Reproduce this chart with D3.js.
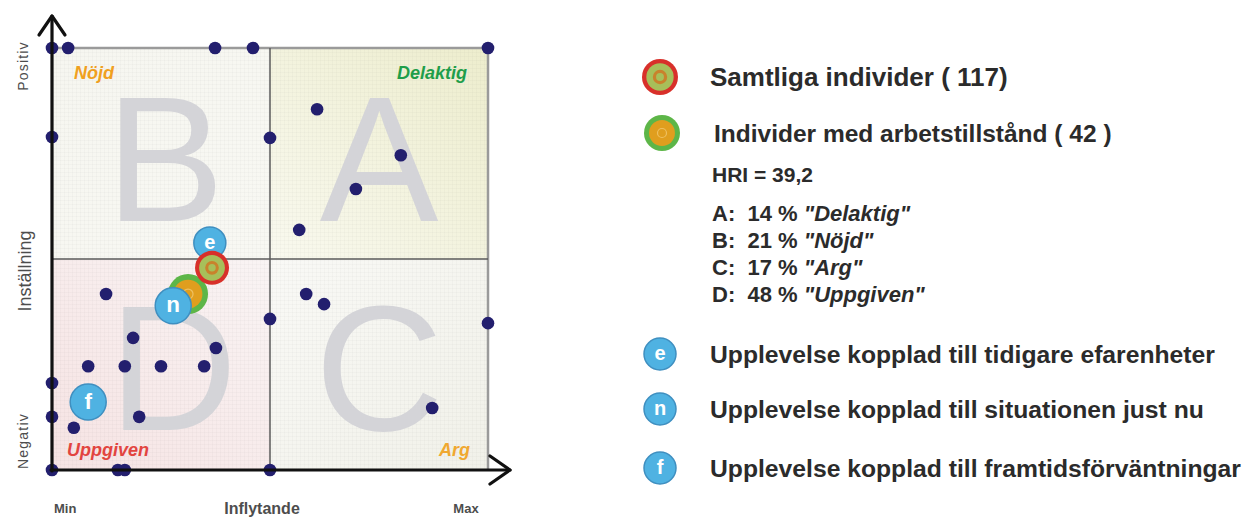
<!DOCTYPE html>
<html>
<head>
<meta charset="utf-8">
<script src="https://cdn.jsdelivr.net/npm/d3@7"></script>
<style>
  body { margin: 0; background: #fff; }
  svg { display: block; }
  text { font-family: "Liberation Sans", Arial, sans-serif; }
</style>
</head>
<body>
<div id="chart"></div>
<script>
// respondents: Inflytande (x) and Inställning (y), both 0 (Min/Negativ) .. 100 (Max/Positiv)
var respX = [0, 3.7, 37.4, 46.1, 100, 0, 50, 60.8, 80, 69.7, 56.7,
             12.4, 18.6, 8.3, 16.7, 25, 34.9, 37.6, 0, 0, 5, 20,
             0, 15.1, 16.7, 50, 50, 58.3, 62.4, 100, 87.2];
var respY = [100, 100, 100, 100, 100, 78.9, 78.7, 85.5, 74.6, 66.6, 56.9,
             41.7, 31.3, 24.6, 24.6, 24.6, 24.6, 28.9, 20.6, 12.6, 10, 12.6,
             0, 0, 0, 0, 35.8, 41.7, 39.3, 34.8, 14.7];

// group averages
var groupLabels = ["Samtliga individer ( 117)", "Individer med arbetstillstånd ( 42 )"];
var groupX = [36.7, 31.2];
var groupY = [47.9, 41.7];

// experience bubbles
var bubbleKeys = ["e", "n", "f"];
var bubbleX = [36.2, 27.8, 8.3];
var bubbleY = [53.8, 38.9, 16.1];
var bubbleLabels = ["Upplevelse kopplad till tidigare efarenheter",
                    "Upplevelse kopplad till situationen just nu",
                    "Upplevelse kopplad till framtidsförväntningar"];

// quadrants
var quadLetters = ["A", "B", "C", "D"];
var quadNames = ["Delaktig", "Nöjd", "Arg", "Uppgiven"];
var quadShare = [14, 21, 17, 48];
var hriValue = "39,2";

var svg = d3.select("#chart").append("svg")
    .attr("width", 1245)
    .attr("height", 517);

var x = d3.scaleLinear().domain([0, 100]).range([52, 488]);
var y = d3.scaleLinear().domain([0, 100]).range([470, 48]);

var defs = svg.append("defs");

//quadrant gradients, outer corner -> centre
var quadStyle = {
  A: {x0: 50, x1: 100, y0: 50, y1: 100, g: [1, 0, 0, 1], c: ["#ededcd", "#f9f9ef"], col: "#1f9e4a"},
  B: {x0: 0, x1: 50, y0: 50, y1: 100, g: [0, 0, 1, 1], c: ["#f6f6f0", "#f8f8f3"], col: "#f0a020"},
  C: {x0: 50, x1: 100, y0: 0, y1: 50, g: [1, 1, 0, 0], c: ["#f1f1e9", "#f9f9f6"], col: "#f0a830"},
  D: {x0: 0, x1: 50, y0: 0, y1: 50, g: [0, 1, 1, 0], c: ["#f6e3e3", "#f9f4f4"], col: "#e2443f"}
};

quadLetters.forEach(function(q) {
  var s = quadStyle[q];
  var grad = defs.append("linearGradient")
      .attr("id", "grad" + q)
      .attr("x1", s.g[0]).attr("y1", s.g[1])
      .attr("x2", s.g[2]).attr("y2", s.g[3]);
  grad.append("stop").attr("offset", 0).attr("stop-color", s.c[0]);
  grad.append("stop").attr("offset", 1).attr("stop-color", s.c[1]);
});

//faint grid texture
var pat = defs.append("pattern")
    .attr("id", "texture")
    .attr("width", 4).attr("height", 4)
    .attr("patternUnits", "userSpaceOnUse");
pat.append("path")
    .attr("d", "M0,0V4M0,0H4")
    .attr("stroke", "#000")
    .attr("stroke-opacity", 0.035)
    .attr("stroke-width", 1);

var plot = svg.append("g");

plot.selectAll("rect.quad")
  .data(quadLetters)
  .enter()
  .append("rect")
  .attr("class", "quad")
  .attr("x", d => x(quadStyle[d].x0))
  .attr("y", d => y(quadStyle[d].y1))
  .attr("width", d => x(quadStyle[d].x1) - x(quadStyle[d].x0))
  .attr("height", d => y(quadStyle[d].y0) - y(quadStyle[d].y1))
  .attr("fill", d => "url(#grad" + d + ")");

plot.append("rect")
  .attr("x", x(0)).attr("y", y(100))
  .attr("width", x(100) - x(0))
  .attr("height", y(0) - y(100))
  .attr("fill", "url(#texture)");

//big quadrant letters
plot.selectAll("text.big")
  .data(quadLetters)
  .enter()
  .append("text")
  .attr("class", "big")
  .attr("x", d => (x(quadStyle[d].x0) + x(quadStyle[d].x1)) / 2 + (d == "D" ? 12 : d == "B" ? 4 : 0))
  .attr("y", d => y(quadStyle[d].y0) - (d == "A" || d == "B" ? 38 : 40))
  .attr("text-anchor", "middle")
  .attr("font-size", 178)
  .attr("fill", "#d4d4d8")
  .text(d => d);

//borders and midlines
plot.append("path")
  .attr("d", "M" + x(0) + "," + y(100) + "H" + x(100) + "V" + y(0))
  .attr("fill", "none")
  .attr("stroke", "#9a9a9a")
  .attr("stroke-width", 2.5);

plot.append("line")
  .attr("x1", x(50)).attr("x2", x(50))
  .attr("y1", y(100)).attr("y2", y(0))
  .attr("stroke", "#5a5a5a").attr("stroke-width", 1.5);

plot.append("line")
  .attr("x1", x(0)).attr("x2", x(100))
  .attr("y1", y(50)).attr("y2", y(50))
  .attr("stroke", "#5a5a5a").attr("stroke-width", 1.5);

//quadrant names
plot.selectAll("text.qname")
  .data(quadLetters)
  .enter()
  .append("text")
  .attr("class", "qname")
  .attr("x", d => (d == "A" || d == "C") ? x(100) - (d == "A" ? 21 : 18) : x(0) + (d == "B" ? 22 : 15))
  .attr("y", d => (d == "A" || d == "B") ? y(100) + 31 : y(0) - 14)
  .attr("text-anchor", d => (d == "A" || d == "C") ? "end" : "start")
  .attr("font-size", 18)
  .attr("font-weight", "bold")
  .attr("font-style", "italic")
  .attr("fill", d => quadStyle[d].col)
  .text(d => quadNames[quadLetters.indexOf(d)]);

//axes with arrows
var axisG = svg.append("g")
  .attr("fill", "none")
  .attr("stroke", "#111")
  .attr("stroke-width", 3.2)
  .attr("stroke-linecap", "round")
  .attr("stroke-linejoin", "round");

axisG.append("path")
  .attr("d", "M" + x(0) + "," + (y(0) + 1) + "V" + (y(100) - 32));
axisG.append("path")
  .attr("d", "M" + (x(0) - 13) + "," + (y(100) - 13) + "L" + x(0) + "," + (y(100) - 32) + "L" + (x(0) + 13) + "," + (y(100) - 13));
axisG.append("path")
  .attr("d", "M" + (x(0) - 1) + "," + y(0) + "H" + (x(100) + 22));
axisG.append("path")
  .attr("d", "M" + (x(100) + 2) + "," + (y(0) - 14) + "L" + (x(100) + 22) + "," + y(0) + "L" + (x(100) + 2) + "," + (y(0) + 14));

//axis labels
var axisLab = svg.append("g").attr("fill", "#4d4d4d");
axisLab.append("text").attr("x", x(0) + 2).attr("y", 513).attr("font-size", 13).attr("font-weight", "bold").text("Min");
axisLab.append("text").attr("x", x(50) - 8).attr("y", 514).attr("font-size", 16).attr("font-weight", "bold")
  .attr("text-anchor", "middle").text("Inflytande");
axisLab.append("text").attr("x", x(100) - 22).attr("y", 513).attr("font-size", 13).attr("font-weight", "bold")
  .attr("text-anchor", "middle").text("Max");
axisLab.append("text").attr("transform", "translate(28," + (y(100) + 18) + ") rotate(-90)")
  .attr("font-size", 14).attr("letter-spacing", 1.2).attr("text-anchor", "middle").text("Positiv");
axisLab.append("text").attr("transform", "translate(31," + (y(50) + 12) + ") rotate(-90)")
  .attr("font-size", 18).attr("text-anchor", "middle").text("Inställning");
axisLab.append("text").attr("transform", "translate(28," + (y(0) - 29) + ") rotate(-90)")
  .attr("font-size", 14).attr("letter-spacing", 1.2).attr("text-anchor", "middle").text("Negativ");

//respondent dots
plot.selectAll("circle.resp")
  .data(respX)
  .enter()
  .append("circle")
  .attr("class", "resp")
  .attr("cx", d => x(d))
  .attr("cy", (d, i) => y(respY[i]))
  .attr("r", 6.3)
  .attr("fill", "#231f6e");

//marker drawing helpers
function redTarget(g, cx, cy, r) {
  g.append("circle").attr("cx", cx).attr("cy", cy).attr("r", r).attr("fill", "#d8302a");
  g.append("circle").attr("cx", cx).attr("cy", cy).attr("r", r * 0.76).attr("fill", "#a7bf5a");
  g.append("circle").attr("cx", cx).attr("cy", cy).attr("r", r * 0.4).attr("fill", "#c9822c");
  g.append("circle").attr("cx", cx).attr("cy", cy).attr("r", r * 0.22).attr("fill", "#a7bf5a");
}
function greenTarget(g, cx, cy, r) {
  g.append("circle").attr("cx", cx).attr("cy", cy).attr("r", r).attr("fill", "#5db648");
  g.append("circle").attr("cx", cx).attr("cy", cy).attr("r", r * 0.72).attr("fill", "#e09e1e");
  g.append("circle").attr("cx", cx).attr("cy", cy).attr("r", r * 0.25).attr("fill", "none")
    .attr("stroke", "#eec060").attr("stroke-width", 1.2);
}
function bubble(g, cx, cy, r, key) {
  g.append("circle").attr("cx", cx).attr("cy", cy).attr("r", r)
    .attr("fill", "#4fb2e2").attr("stroke", "#3f8fc0").attr("stroke-width", 1.5);
  g.append("text").attr("x", cx).attr("y", cy + r * 0.36)
    .attr("text-anchor", "middle")
    .attr("font-size", r * 1.25)
    .attr("font-weight", "bold")
    .attr("fill", "#fff")
    .text(key);
}

var marks = svg.append("g");
bubble(marks, x(bubbleX[0]), y(bubbleY[0]), 16, bubbleKeys[0]);
greenTarget(marks, x(groupX[1]), y(groupY[1]), 20);
bubble(marks, x(bubbleX[1]), y(bubbleY[1]), 18, bubbleKeys[1]);
redTarget(marks, x(groupX[0]), y(groupY[0]), 17);
bubble(marks, x(bubbleX[2]), y(bubbleY[2]), 18, bubbleKeys[2]);

//legend
var leg = svg.append("g").attr("fill", "#2b2b2b").attr("font-weight", "bold");

redTarget(leg, 660, 77, 18);
leg.append("text").attr("x", 710).attr("y", 86).attr("font-size", 26).text(groupLabels[0]);

greenTarget(leg, 662, 133, 18);
leg.append("text").attr("x", 714).attr("y", 142).attr("font-size", 24.5).text(groupLabels[1]);

leg.append("text").attr("x", 712).attr("y", 182).attr("font-size", 21).text("HRI = " + hriValue);

var shareRows = leg.selectAll("text.share")
  .data(quadLetters)
  .enter()
  .append("text")
  .attr("class", "share")
  .attr("x", 712)
  .attr("y", (d, i) => 221 + i * 27)
  .attr("font-size", 22)
  .attr("xml:space", "preserve");
shareRows.append("tspan").text((d, i) => d + ":  " + quadShare[i] + " % ");
shareRows.append("tspan").attr("font-style", "italic").text((d, i) => "\"" + quadNames[i] + "\"");

bubbleKeys.forEach(function(k, i) {
  var cy = [354, 409, 468][i];
  bubble(leg, 660, cy, 16, k);
  leg.append("text").attr("x", 710).attr("y", cy + 9).attr("font-size", 24.7).text(bubbleLabels[i]);
});
</script>
</body>
</html>
